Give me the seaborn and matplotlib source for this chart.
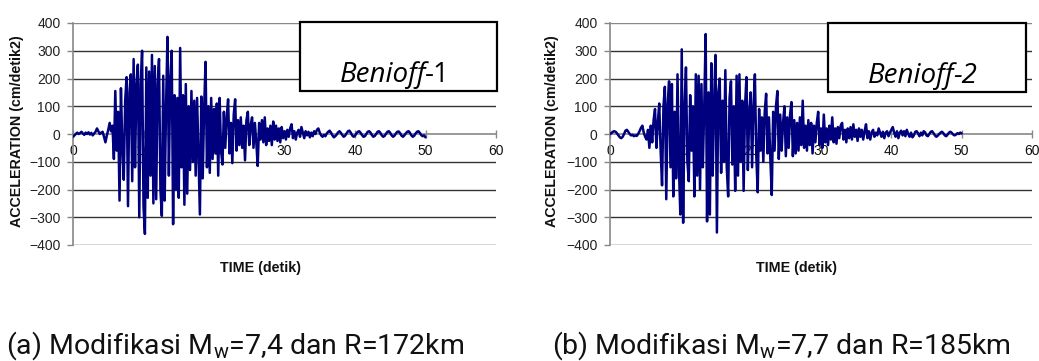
import numpy as np
import pandas as pd
import matplotlib
matplotlib.use("Agg")
import matplotlib.pyplot as plt
import seaborn as sns
from matplotlib.patches import Rectangle

# ---------------- data ----------------
sample_interval = 0.2  # seconds between the listed samples (0 .. 50 s)

benioff1_acc = [
    -10, -5, 0, 5, 0, 3, 8, 2, -3, 5, 0, 6, -2, 4, -5, 2, 8, 20, 10, 0, 5, 8, -10, -30, -5,
    15, 40, 10, 30, -90, 155, -60, 80, -240, 165, -50, -165, 120, 205, -260, 150, 215, -170, 270, -120, 180, 250, -300, 180, 300,
    -260, -360, 240, -230, 225, -150, 285, -250, 245, -235, 180, 270, -200, -295, 210, -240, 100, 350, -150, 200, 300, -325, 140, -200, 130,
    -230, 310, -120, 140, -255, 180, -215, 100, -130, 155, -100, 120, -150, 130, -80, -290, 135, -160, 90, 260, -120, 100, -140, 130, -90,
    90, -70, 110, -150, 130, -60, -110, 80, -50, 60, 125, -70, 40, -105, 70, 125, -60, 50, -40, 60, -50, 30, -95, 50, 80,
    -40, 30, 60, -50, 40, -30, -115, 40, -20, 50, -30, 60, -40, 20, -25, 30, -40, 45, -20, 30, -25, 20, -30, 25, -15,
    10, -20, 15, -10, 20, 35, -15, 10, -20, 5, 15, -10, 25, 5, -15, 10, -5, 8, -12, 5, -8, 10, 0, 15, 20,
    5, -5, -10, -3, -8, 2, 8, 12, 5, -5, -12, -8, -2, 6, 10, 4, -4, -10, -6, 2, 10, 12, 5, -5, -10,
    -6, 2, 8, 10, 4, -4, -10, -8, 0, 8, 10, 5, -4, -10, -7, 0, 8, 10, 4, -5, -10, -7, 1, 8, 10,
    4, -5, -10, -6, 2, 8, 9, 3, -6, -10, -5, 2, 8, 10, 4, -5, -10, -6, 2, 8, 10, 4, -4, -8, -5, -12,
]

benioff2_acc = [
    0, 3, 8, 10, 8, 2, -5, -12, -15, -10, 0, 12, 15, 8, 0, -5, -3, -8, -5, -7, 0, 10, 22, 30, 5,
    -10, -20, 15, -50, 30, -30, 50, 90, -50, 40, 110, -60, -185, 100, 170, -235, 110, 190, -120, 180, -225, 80, -160, 215, -120,
    -290, 305, -320, 100, 240, -100, -170, 140, -60, 100, -225, 215, -150, 210, -200, 180, -120, 100, 360, -315, 150, -290, 255, -150, 120,
    285, -355, 150, 200, -140, 120, -100, 230, -120, -225, 130, 190, -110, 100, -205, 210, -150, 215, -100, 120, -205, 100, 205, -130, 80,
    150, -120, 100, 215, -80, -210, 90, -60, 60, -100, 80, 145, -70, 60, -90, -220, 80, -60, 100, 155, -90, 70, -60, 40, 100,
    -80, 60, -50, 70, 115, -80, 50, -70, 40, -60, 60, -40, 120, -50, 30, -60, 50, -40, 40, -70, 30, -30, 40, 80, -40,
    20, -50, 70, -30, 20, -40, 30, -20, 60, -30, 20, -35, 25, -15, 30, 40, -20, 15, -30, 20, -15, 25, -20, 35, -10,
    15, -25, 20, -10, 15, -20, 10, 35, -15, 10, -20, 5, 15, -10, 5, -5, 20, 5, -10, 8, -15, 5, 10, -8, 5,
    15, 25, 5, -10, 10, -15, 5, 12, -5, 10, -8, 15, 0, -10, 5, -12, -5, 8, 10, 2, -8, 5, -5, 10, 6,
    -5, -8, 0, 8, 10, 3, -5, -10, -6, 0, 5, 8, 3, -5, -8, -2, 5, 8, 4, -2, -5, -2, 3, 0, 5, 2,
]

panel_labels = ["Benioff", "Benioff"]
panel_suffix = ["-1", "-2"]
captions = [r"(a) Modifikasi M$_\mathregular{w}$=7,4 dan R=172km",
            r"(b) Modifikasi M$_\mathregular{w}$=7,7 dan R=185km"]
x_label = "TIME (detik)"
y_label = "ACCELERATION (cm/detik2)"
x_ticks = [0, 10, 20, 30, 40, 50, 60]
y_ticks = [-400, -300, -200, -100, 0, 100, 200, 300, 400]

# ---------------- figure ----------------
sns.set_theme(style="white")
plt.rcParams["font.family"] = ["Liberation Sans", "DejaVu Sans"]

W, H = 1039, 361
fig = plt.figure(figsize=(W / 100, H / 100), dpi=100)

def fx(px):
    return px / W

def fy(py):
    return 1 - py / H

axes_px = [(73, 496), (610, 1032)]
top_px, bot_px = 23, 245
ylabel_x = [17, 552]
xlabel_x = [260, 797]
box_px = [(300, 22, 497, 91), (828, 23, 1026, 92)]
bench_text_x = [340, 868]
caption_x = [6, 552]

series = [benioff1_acc, benioff2_acc]
line_color = "#00007F"

for k in range(2):
    x0, x1 = axes_px[k]
    ax = fig.add_axes([fx(x0), fy(bot_px), fx(x1) - fx(x0), fy(top_px) - fy(bot_px)])
    acc = series[k]
    df = pd.DataFrame({"time": np.arange(len(acc)) * sample_interval, "acc": acc})
    sns.lineplot(data=df, x="time", y="acc", ax=ax, color=line_color,
                 linewidth=1.8, estimator=None, sort=False, zorder=3)
    ax.set_xlim(0, 60)
    ax.set_ylim(-400, 400)
    ax.set_xticks(x_ticks)
    ax.set_yticks(y_ticks)
    ax.set_xlabel("")
    ax.set_ylabel("")
    for yv in y_ticks[:-1]:
        if yv != 0:
            ax.axhline(yv, color="#333333", lw=1.0, zorder=1)
    ax.axhline(400, color="#888888", lw=1.0, zorder=1)
    ax.spines["top"].set_visible(False)
    ax.spines["right"].set_visible(False)
    ax.spines["left"].set_color("#888888")
    ax.spines["left"].set_linewidth(1.2)
    ax.spines["bottom"].set_position(("data", 0))
    ax.spines["bottom"].set_color("#888888")
    ax.spines["bottom"].set_linewidth(1.2)
    ax.spines["bottom"].set_zorder(2)
    ax.tick_params(axis="y", left=True, direction="out", length=4, width=1,
                   color="#888888", labelsize=10, pad=5, labelcolor="#222222")
    ax.tick_params(axis="x", bottom=True, direction="inout", length=6, width=1,
                   color="#888888", labelsize=10, pad=4.5, labelcolor="#111111")
    for lab in ax.get_xticklabels():
        lab.set_zorder(5)
    ax.patch.set_alpha(0)

    fig.text(fx(ylabel_x[k]), fy(131), y_label, rotation=90, ha="center", va="center",
             fontsize=10.3, fontweight="bold", color="#111111")
    fig.text(fx(xlabel_x[k]), fy(268), x_label, ha="center", va="center",
             fontsize=10.3, fontweight="bold", color="#111111")

    bx0, by0, bx1, by1 = box_px[k]
    fig.patches.append(Rectangle((fx(bx0), fy(by1)), fx(bx1) - fx(bx0), fy(by0) - fy(by1),
                                 transform=fig.transFigure, facecolor="white",
                                 edgecolor="black", linewidth=1.6, zorder=10))

    fig.text(fx(caption_x[k]), fy(354), captions[k], ha="left", va="baseline",
             fontsize=20.5, family=["Roboto", "DejaVu Sans"], color="#111111")

fig.canvas.draw()
renderer = fig.canvas.get_renderer()
for k in range(2):
    base = fy(82 if k == 0 else 83)
    t1 = fig.text(fx(bench_text_x[k]), base, panel_labels[k], ha="left", va="baseline",
                  fontsize=20, style="italic", family=["Open Sans", "DejaVu Sans"],
                  color="black", zorder=11)
    ext = t1.get_window_extent(renderer)
    fig.text(ext.x1 / W - 0.001, base, panel_suffix[k], ha="left", va="baseline",
             fontsize=20, style="normal" if k == 0 else "italic",
             family=["Open Sans", "DejaVu Sans"], color="black", zorder=11)

fig.savefig("out.png", dpi=100)
